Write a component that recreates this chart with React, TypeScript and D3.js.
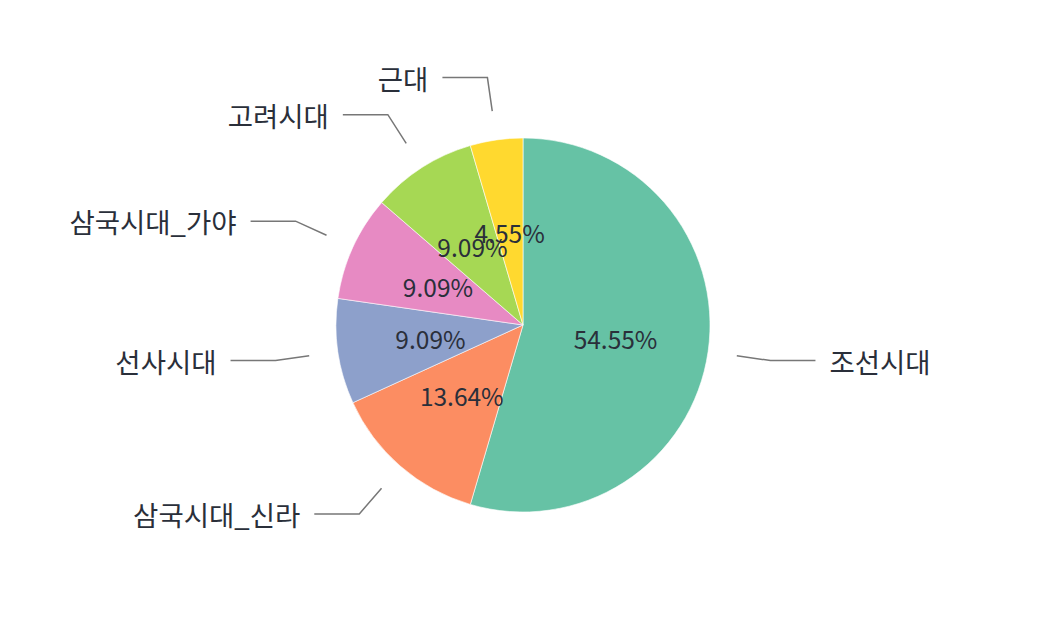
import { useEffect, useRef } from 'react';
import * as d3 from 'd3';

// pie data (counts), clockwise from 12 o'clock
const categories = ['조선시대', '삼국시대_신라', '선사시대', '삼국시대_가야', '고려시대', '근대'];
const counts = [12, 3, 2, 2, 2, 1];
const colors = ['#66c2a5', '#fc8d62', '#8da0cb', '#e78ac3', '#a6d854', '#ffd92f'];

const WIDTH = 1048;
const HEIGHT = 618;

export default function App() {
  const svgRef = useRef<SVGSVGElement>(null);

  useEffect(() => {
    if (!svgRef.current) return;
    const svg = d3.select(svgRef.current);
    svg.selectAll('*').remove();

    const cx = 523;
    const cy = 325;
    const radius = 187;
    const font = '"Noto Sans CJK KR", "Noto Sans", sans-serif';

    const data = categories.map((name, i) => ({ name, value: counts[i], color: colors[i] }));
    const total = d3.sum(counts);

    const pie = d3.pie<any>().value((d: any) => d.value).sort(null);
    const arcs = pie(data);

    const arc = d3.arc<any>().innerRadius(0).outerRadius(radius);
    const labelArc = d3.arc<any>().innerRadius(radius * 0.5).outerRadius(radius * 0.5);
    const lineStart = d3.arc<any>().innerRadius(radius + 29).outerRadius(radius + 29);
    const lineBend = d3.arc<any>().innerRadius(radius + 63).outerRadius(radius + 63);

    const g = svg.append('g').attr('transform', `translate(${cx},${cy})`);

    // slices
    g.selectAll('path.slice')
      .data(arcs)
      .enter()
      .append('path')
      .attr('class', 'slice')
      .attr('d', arc as any)
      .attr('fill', (d: any) => d.data.color)
      .attr('stroke', '#ffffff')
      .attr('stroke-width', 0.6);

    // leader lines + outer labels
    arcs.forEach((d: any) => {
      const mid = (d.startAngle + d.endAngle) / 2;
      const right = Math.sin(mid) > 0;
      const p1 = lineStart.centroid(d);
      const p2 = lineBend.centroid(d);
      const p3 = [p2[0] + (right ? 45 : -45), p2[1]];

      g.append('polyline')
        .attr('points', [p1, p2, p3].map((p) => p.join(',')).join(' '))
        .attr('fill', 'none')
        .attr('stroke', '#777777')
        .attr('stroke-width', 1.5);

      g.append('text')
        .attr('x', p3[0] + (right ? 14 : -14))
        .attr('y', p3[1])
        .attr('text-anchor', right ? 'start' : 'end')
        .attr('dominant-baseline', 'central')
        .attr('font-family', font)
        .attr('font-size', '27.5px')
        .attr('fill', '#2a2f3a')
        .text(d.data.name);
    });

    // percent labels
    g.selectAll('text.pct')
      .data(arcs)
      .enter()
      .append('text')
      .attr('class', 'pct')
      .attr('transform', (d: any) => `translate(${labelArc.centroid(d)})`)
      .attr('text-anchor', 'middle')
      .attr('dominant-baseline', 'central')
      .attr('font-family', font)
      .attr('font-size', '24.5px')
      .attr('fill', '#2a2f3a')
      .text((d: any) => `${((d.data.value / total) * 100).toFixed(2)}%`);
  }, []);

  return (
    <svg
      ref={svgRef}
      width={WIDTH}
      height={HEIGHT}
      style={{ position: 'absolute', left: 0, top: 0, background: '#ffffff' }}
    />
  );
}
